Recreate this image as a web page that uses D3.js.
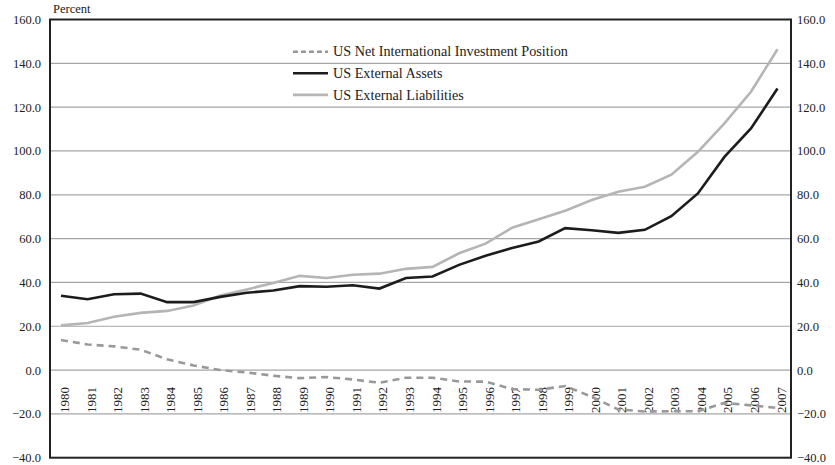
<!DOCTYPE html>
<html>
<head>
<meta charset="utf-8">
<script src="https://cdn.jsdelivr.net/npm/d3@7"></script>
<style>
  html, body { margin: 0; padding: 0; background: #fff; }
  svg { display: block; }
  text { font-family: "Liberation Serif", "Times New Roman", serif; fill: #222; }
</style>
</head>
<body>
<svg id="chart" width="835" height="465"></svg>
<script>
const years = [1980,1981,1982,1983,1984,1985,1986,1987,1988,1989,1990,1991,1992,1993,1994,1995,1996,1997,1998,1999,2000,2001,2002,2003,2004,2005,2006,2007];
const netPosition = [13.7,11.7,10.8,9.3,4.9,2.1,0.0,-1.1,-2.6,-3.7,-3.2,-4.3,-5.8,-3.5,-3.5,-5.2,-5.3,-8.7,-9.0,-7.3,-12.2,-18.0,-18.9,-18.8,-18.8,-15.0,-16.1,-17.3];
const assets = [33.9,32.3,34.6,34.9,31.0,31.0,33.4,35.3,36.3,38.3,38.0,38.7,37.2,42.0,42.7,48.0,52.2,55.7,58.7,64.8,63.8,62.6,64.0,70.2,80.6,97.3,110.3,128.5];
const liabilities = [20.4,21.5,24.3,26.1,27.0,29.5,34.0,36.8,39.7,43.0,42.0,43.5,44.0,46.2,47.1,53.3,57.7,65.0,68.8,72.7,77.6,81.4,83.7,89.2,99.6,112.6,127.0,146.4];
const yTicks = [-40,-20,0,20,40,60,80,100,120,140,160];
const seriesNames = ["US Net International Investment Position","US External Assets","US External Liabilities"];

const svg = d3.select("#chart");
const L = 50, R = 791, T = 19.5, B = 457.7;

const x = d3.scalePoint().domain(years).range([61, 777.5]);
const y = d3.scaleLinear().domain([-40, 160]).range([B, T]);

// gridlines
svg.append("g").selectAll("line")
  .data(yTicks.filter(v => v > -40 && v < 160))
  .join("line")
  .attr("x1", L).attr("x2", R)
  .attr("y1", d => y(d)).attr("y2", d => y(d))
  .attr("stroke", "#a6a6a6").attr("stroke-width", 1.2);

// left axis
const leftAxis = d3.axisLeft(y).tickValues(yTicks).tickFormat(d3.format(".1f")).tickSize(0).tickPadding(9);
const gl = svg.append("g").attr("transform", `translate(${L},0)`).call(leftAxis);
gl.select(".domain").remove();
gl.selectAll("text").style("font-family", '"Liberation Serif", serif').style("font-size", "12.5px").attr("fill", "#222");

// right axis
const rightAxis = d3.axisRight(y).tickValues(yTicks).tickFormat(d3.format(".1f")).tickSize(0).tickPadding(6);
const gr = svg.append("g").attr("transform", `translate(${R},0)`).call(rightAxis);
gr.select(".domain").remove();
gr.selectAll("text").style("font-family", '"Liberation Serif", serif').style("font-size", "12.5px").attr("fill", "#222");

// year labels
svg.append("g").selectAll("text")
  .data(years)
  .join("text")
  .attr("transform", d => `translate(${x(d) + 8},${y(-20) - 1}) rotate(-90)`)
  .attr("text-anchor", "start")
  .style("font-size", "13px")
  .text(d => d);

// lines
const line = d3.line().x((d, i) => x(years[i])).y(d => y(d));
svg.append("path").datum(liabilities).attr("d", line)
  .attr("fill", "none").attr("stroke", "#b5b5b5").attr("stroke-width", 2.6);
svg.append("path").datum(assets).attr("d", line)
  .attr("fill", "none").attr("stroke", "#1c1c1c").attr("stroke-width", 2.6);
svg.append("path").datum(netPosition).attr("d", line)
  .attr("fill", "none").attr("stroke", "#999999").attr("stroke-width", 2.6)
  .attr("stroke-dasharray", "7,5");

// frame
svg.append("rect").attr("x", L).attr("y", T).attr("width", R - L).attr("height", B - T)
  .attr("fill", "none").attr("stroke", "#222").attr("stroke-width", 2);

// Percent label
svg.append("text").attr("x", 53).attr("y", 13).style("font-size", "12.5px").text("Percent");

// legend
const legendStyles = [
  {stroke: "#999999", dash: "5,3"},
  {stroke: "#1c1c1c", dash: null},
  {stroke: "#b5b5b5", dash: null}
];
const lg = svg.append("g");
seriesNames.forEach((name, i) => {
  const ly = 51.7 + i * 21.6;
  lg.append("line").attr("x1", 293).attr("x2", 328).attr("y1", ly).attr("y2", ly)
    .attr("stroke", legendStyles[i].stroke).attr("stroke-width", 2.6)
    .attr("stroke-dasharray", legendStyles[i].dash);
  lg.append("text").attr("x", 333).attr("y", ly + 4.6).style("font-size", "14.2px").text(name);
});
</script>
</body>
</html>
